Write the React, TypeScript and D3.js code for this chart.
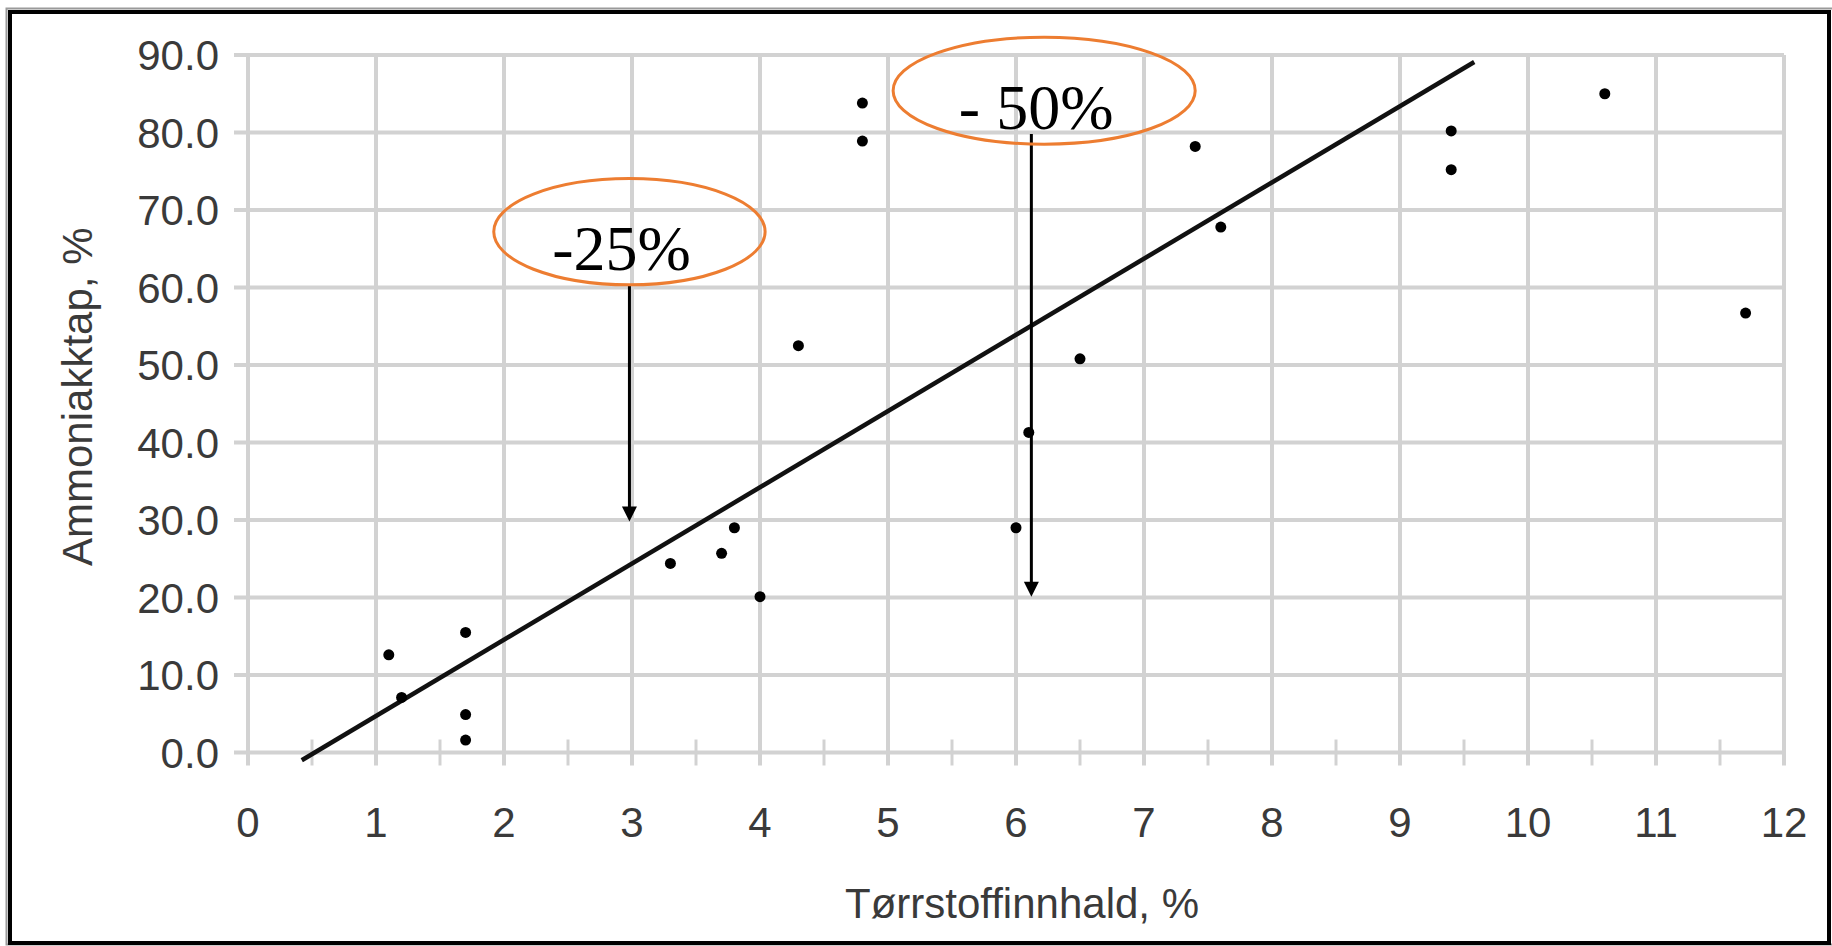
import { scaleLinear, line, range } from "d3";

const W = 1832;
const H = 946;
const M = { top: 55, right: 48, bottom: 193.5, left: 248 };

// tørrstoff % vs ammoniakktap %
const dryMatter = [1.1, 1.2, 1.7, 1.7, 1.7, 3.3, 3.7, 3.8, 4.0, 4.3, 4.8, 4.8, 6.0, 6.1, 6.5, 7.4, 7.6, 9.4, 9.4, 10.6, 11.7];
const ammoniaLoss = [12.6, 7.1, 15.5, 4.9, 1.6, 24.4, 25.7, 29.0, 20.1, 52.5, 83.8, 78.9, 29.0, 41.3, 50.8, 78.2, 67.8, 80.2, 75.2, 85.0, 56.7];

// trend line, endpoints as drawn
const trendX = [0.42, 9.58];
const trendY = [-1.0, 89.1];

const xTicks = range(0, 13);
const xMinor = range(0.5, 12, 1);
const yTicks = range(0, 91, 10);

const xTitle = "Tørrstoffinnhald, %";
const yTitle = "Ammoniakktap, %";

// annotations: ellipse label + arrow pointing down
const notes = [
  { label: "-25%", cx: 2.98, cy: 67.2, rx: 1.06, ry: 6.85, ax: 2.98, from: 60.4, to: 29.8 },
  { label: "- 50%", cx: 6.22, cy: 85.4, rx: 1.18, ry: 6.9, ax: 6.12, from: 79.8, to: 20.1 },
];

const GRID = "#d2d2d2";
const AXIS_TXT = "#3a3a3a";
const ORANGE = "#ed7d31";

export default function App() {
  const x = scaleLinear().domain([0, 12]).range([M.left, W - M.right]);
  const y = scaleLinear().domain([0, 90]).range([H - M.bottom, M.top]);
  const y0 = y(0);

  const trend = line<number>()
    .x((_, i) => x(trendX[i]))
    .y((_, i) => y(trendY[i]));

  return (
    <div style={{ position: "fixed", left: 0, top: 0, width: W, height: H, background: "#fff" }}>
      <svg width={W} height={H} viewBox={`0 0 ${W} ${H}`} style={{ display: "block" }}>
        <rect x={0} y={0} width={W} height={H} fill="#fff" />
        {/* frame */}
        <rect x={6.5} y={8.5} width={W - 5} height={H - 10} fill="none" stroke="#9a9a9a" strokeWidth={2} />
        <rect x={10} y={12} width={W - 13} height={H - 15} fill="none" stroke="#000" strokeWidth={4} />

        {/* grid */}
        {yTicks.map((t) => (
          <line key={`h${t}`} x1={x(0) - 14} x2={x(12)} y1={y(t)} y2={y(t)} stroke={GRID} strokeWidth={4} />
        ))}
        {xTicks.map((t) => (
          <line key={`v${t}`} x1={x(t)} x2={x(t)} y1={y(90)} y2={y0 + 13} stroke={GRID} strokeWidth={4} />
        ))}
        {xMinor.map((t) => (
          <line key={`m${t}`} x1={x(t)} x2={x(t)} y1={y0 - 13} y2={y0 + 13} stroke={GRID} strokeWidth={3} />
        ))}

        {/* tick labels */}
        {yTicks.map((t) => (
          <text
            key={`yl${t}`}
            x={x(0) - 29}
            y={y(t) + 15}
            textAnchor="end"
            fontFamily="'Liberation Sans', Arial, sans-serif"
            fontSize={42}
            fill={AXIS_TXT}
          >
            {t.toFixed(1)}
          </text>
        ))}
        {xTicks.map((t) => (
          <text
            key={`xl${t}`}
            x={x(t)}
            y={y0 + 84}
            textAnchor="middle"
            fontFamily="'Liberation Sans', Arial, sans-serif"
            fontSize={42}
            fill={AXIS_TXT}
          >
            {t}
          </text>
        ))}

        {/* axis titles */}
        <text
          x={(x(0) + x(12)) / 2 + 6}
          y={918}
          textAnchor="middle"
          fontFamily="'Liberation Sans', Arial, sans-serif"
          fontSize={42}
          fill={AXIS_TXT}
        >
          {xTitle}
        </text>
        <text
          transform={`translate(92, ${(y(0) + y(90)) / 2 - 7}) rotate(-90)`}
          textAnchor="middle"
          fontFamily="'Liberation Sans', Arial, sans-serif"
          fontSize={42}
          fill={AXIS_TXT}
        >
          {yTitle}
        </text>

        {/* trend line */}
        <path d={trend(trendX) ?? undefined} fill="none" stroke="#111" strokeWidth={4.5} />

        {/* points */}
        {dryMatter.map((d, i) => (
          <circle key={`p${i}`} cx={x(d)} cy={y(ammoniaLoss[i])} r={5.5} fill="#000" />
        ))}

        {/* annotations */}
        {notes.map((n) => {
          const ax = x(n.ax);
          const tip = y(n.to);
          return (
            <g key={n.label}>
              <line x1={ax} x2={ax} y1={y(n.from)} y2={tip - 12} stroke="#000" strokeWidth={3} />
              <path d={`M${ax - 7.5},${tip - 15} L${ax + 7.5},${tip - 15} L${ax},${tip} Z`} fill="#000" />
              <ellipse
                cx={x(n.cx)}
                cy={y(n.cy)}
                rx={x(n.cx + n.rx) - x(n.cx)}
                ry={y(n.cy - n.ry) - y(n.cy)}
                fill="none"
                stroke={ORANGE}
                strokeWidth={3}
              />
              <text
                x={x(n.cx) - 8}
                y={y(n.cy) + 38}
                textAnchor="middle"
                fontFamily="'Liberation Serif', 'Times New Roman', serif"
                fontSize={64}
                fill="#000"
              >
                {n.label}
              </text>
            </g>
          );
        })}
      </svg>
    </div>
  );
}
